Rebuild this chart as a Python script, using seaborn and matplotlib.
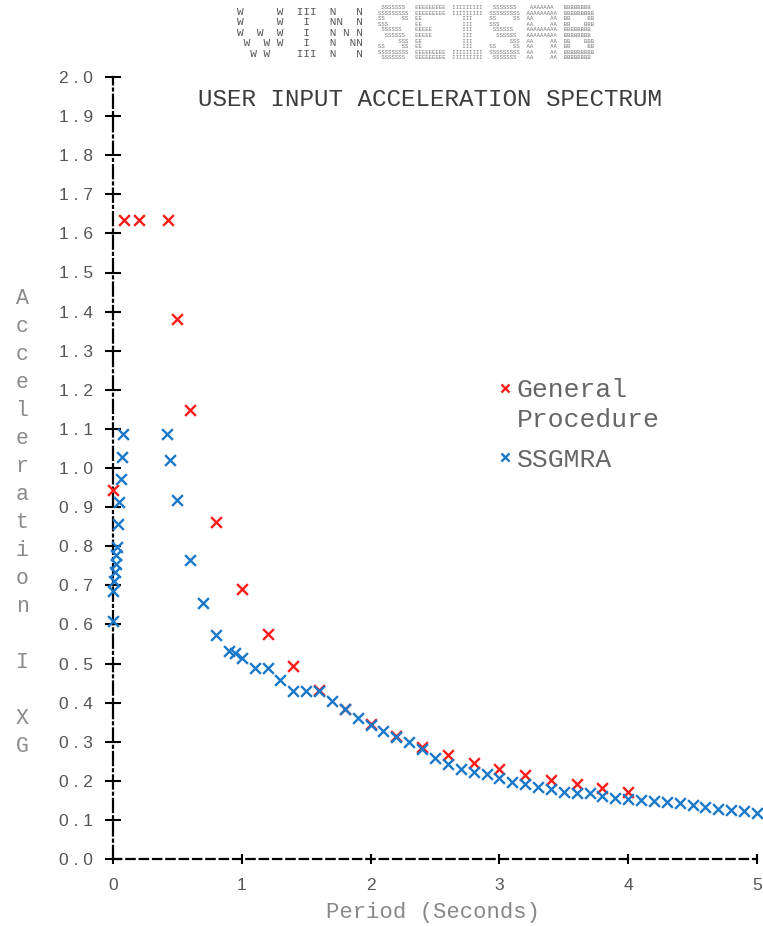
import numpy as np
import pandas as pd
import matplotlib
matplotlib.use("Agg")
import matplotlib.pyplot as plt
import seaborn as sns
from matplotlib.legend_handler import HandlerPathCollection
from matplotlib.ticker import FixedLocator, FuncFormatter

# General procedure design spectrum: period (s) vs spectral acceleration (g)
general_period = [0.0, 0.085, 0.2, 0.425, 0.5, 0.6, 0.8, 1.0, 1.2, 1.4, 1.6, 1.8,
                  2.0, 2.2, 2.4, 2.6, 2.8, 3.0, 3.2, 3.4, 3.6, 3.8, 4.0]
general_accel = [0.945, 1.635, 1.635, 1.635, 1.38, 1.148, 0.862, 0.69, 0.575, 0.493,
                 0.431, 0.383, 0.345, 0.314, 0.2875, 0.265, 0.246, 0.23, 0.216,
                 0.203, 0.192, 0.182, 0.1725]

# Site-specific ground motion response analysis spectrum
ssgmra_period = [0.0, 0.003, 0.01, 0.016, 0.021, 0.023, 0.029, 0.041, 0.047, 0.06,
                 0.067, 0.075, 0.42, 0.445, 0.5, 0.6, 0.7, 0.8, 0.9, 0.95,
                 1.0, 1.1, 1.2, 1.3, 1.4, 1.5, 1.6, 1.7, 1.8, 1.9,
                 2.0, 2.1, 2.2, 2.3, 2.4, 2.5, 2.6, 2.7, 2.8, 2.9,
                 3.0, 3.1, 3.2, 3.3, 3.4, 3.5, 3.6, 3.7, 3.8, 3.9,
                 4.0, 4.1, 4.2, 4.3, 4.4, 4.5, 4.6, 4.7, 4.8, 4.9, 5.0]
ssgmra_accel = [0.608, 0.685, 0.71, 0.733, 0.755, 0.778, 0.799, 0.857, 0.914, 0.971,
                1.029, 1.088, 1.088, 1.02, 0.917, 0.765, 0.655, 0.574, 0.531, 0.527,
                0.514, 0.489, 0.489, 0.458, 0.43, 0.43, 0.43, 0.404, 0.383, 0.36,
                0.342, 0.327, 0.313, 0.298, 0.281, 0.259, 0.242, 0.231, 0.223, 0.217,
                0.208, 0.197, 0.191, 0.183, 0.179, 0.172, 0.17, 0.168, 0.16, 0.157,
                0.154, 0.151, 0.149, 0.146, 0.143, 0.138, 0.133, 0.129, 0.126, 0.123,
                0.117]

series_labels = ["General\nProcedure", "SSGMRA"]
series_colors = ["#ff1a1a", "#1a78c8"]

x_ticks = [0, 1, 2, 3, 4, 5]
y_ticks = [round(0.1 * i, 1) for i in range(21)]

title_text = "USER INPUT ACCELERATION SPECTRUM"
xlabel_text = "Period (Seconds)"
ylabel_text = "Acceleration I XG"

banner_left = (
    "W     W  III  N   N\n"
    "W     W   I   NN  N\n"
    "W  W  W   I   N N N\n"
    " W  W W   I   N  NN\n"
    "  W W    III  N   N"
)

_letters = {
    "S": [" SSSSSSS ", "SSSSSSSSS", "SS     SS", "SSS      ", " SSSSSS  ",
          "  SSSSSS ", "      SSS", "SS     SS", "SSSSSSSSS", " SSSSSSS "],
    "E": ["EEEEEEEEE", "EEEEEEEEE", "EE       ", "EE       ", "EEEEE    ",
          "EEEEE    ", "EE       ", "EE       ", "EEEEEEEEE", "EEEEEEEEE"],
    "I": ["IIIIIIIII", "IIIIIIIII", "   III   ", "   III   ", "   III   ",
          "   III   ", "   III   ", "   III   ", "IIIIIIIII", "IIIIIIIII"],
    "A": [" AAAAAAA ", "AAAAAAAAA", "AA     AA", "AA     AA", "AAAAAAAAA",
          "AAAAAAAAA", "AA     AA", "AA     AA", "AA     AA", "AA     AA"],
    "B": ["BBBBBBBB ", "BBBBBBBBB", "BB     BB", "BB    BBB", "BBBBBBBB ",
          "BBBBBBBB ", "BB    BBB", "BB     BB", "BBBBBBBBB", "BBBBBBBB "],
}
banner_right = "\n".join("  ".join(_letters[c][r] for c in "SEISAB") for r in range(10))

mono = "Liberation Mono"
sans = "Liberation Sans"

sns.set_style("ticks")
plt.rcParams["lines.scale_dashes"] = False
plt.rcParams["font.family"] = [sans, "DejaVu Sans"]

W, H = 763, 926
fig = plt.figure(figsize=(W / 100, H / 100), dpi=100)
ax = fig.add_axes([113 / W, 1 - 859 / H, (757 - 113) / W, (859 - 77) / H])

gen_df = pd.DataFrame({"period": general_period, "accel": general_accel})
ssg_df = pd.DataFrame({"period": ssgmra_period, "accel": ssgmra_accel})

sns.scatterplot(data=gen_df, x="period", y="accel", marker="x", color=series_colors[0],
                s=60, linewidth=1.7, label=series_labels[0], ax=ax, clip_on=False, zorder=3)
sns.scatterplot(data=ssg_df, x="period", y="accel", marker="x", color=series_colors[1],
                s=60, linewidth=1.7, label=series_labels[1], ax=ax, clip_on=False, zorder=4)

ax.set_xlim(0, 5)
ax.set_ylim(0, 2.0)
ax.xaxis.set_major_locator(FixedLocator(x_ticks))
ax.yaxis.set_major_locator(FixedLocator(y_ticks))
ax.yaxis.set_major_formatter(FuncFormatter(lambda v, p: " ".join(f"{v:.1f}")))
ax.xaxis.set_major_formatter(FuncFormatter(lambda v, p: f"{v:.0f}"))

for side in ("top", "right"):
    ax.spines[side].set_visible(False)
ax.spines["left"].set_linewidth(1.6)
ax.spines["left"].set_color("black")
ax.spines["left"].set_linestyle((0, (9.5, 3.0, 1.4, 3.0)))
ax.spines["bottom"].set_linewidth(1.6)
ax.spines["bottom"].set_color("black")
ax.spines["bottom"].set_linestyle((0, (6.0, 3.6)))

ax.tick_params(axis="y", direction="inout", length=12, width=1.5, color="black",
               labelcolor="#555555", labelsize=12.5, pad=8.5)
ax.tick_params(axis="x", direction="inout", length=7, width=1.5, color="black",
               labelcolor="#555555", labelsize=12.5, pad=10)
ax.set_xlabel("")
ax.set_ylabel("")

# Legend: marker aligned with the first line of each label
handles, labels = ax.get_legend_handles_labels()
leg_fs = 19
leg = ax.legend(handles, labels, loc="upper left", bbox_to_anchor=(0.598, 0.615),
                frameon=False, prop={"family": mono, "size": leg_fs},
                handlelength=0.5, handletextpad=0.2, borderpad=0, borderaxespad=0,
                labelspacing=0.6, scatterpoints=1, scatteryoffsets=[0.5],
                markerscale=0.75,
                handler_map={handles[0]: HandlerPathCollection(yoffsets=[1.42])})
for t in leg.get_texts():
    t.set_color("#666666")
    t.set_linespacing(1.3)

# Title, axis labels
fig.text(430 / W, 1 - 106 / H, title_text, family=mono, fontsize=17.5,
         color="#3c3c3c", ha="center", va="baseline")
fig.text(433 / W, 1 - 918 / H, xlabel_text, family=mono, fontsize=16,
         color="#888888", ha="center", va="baseline")
for i, ch in enumerate(ylabel_text):
    if ch.strip():
        fig.text(22 / W, 1 - (304 + 28.0 * i) / H, ch, family=mono, fontsize=15.5,
                 color="#8a8a8a", ha="center", va="baseline")

# Program banner
fig.text(237 / W, 1 - 7 / H, banner_left, family=mono, fontsize=8, color="#555555",
         ha="left", va="top", linespacing=1.05)
fig.text(378 / W, 1 - 5 / H, banner_right, family=mono, fontsize=4.1, color="#777777",
         ha="left", va="top", linespacing=1.15)

fig.savefig("out.png", dpi=100)
